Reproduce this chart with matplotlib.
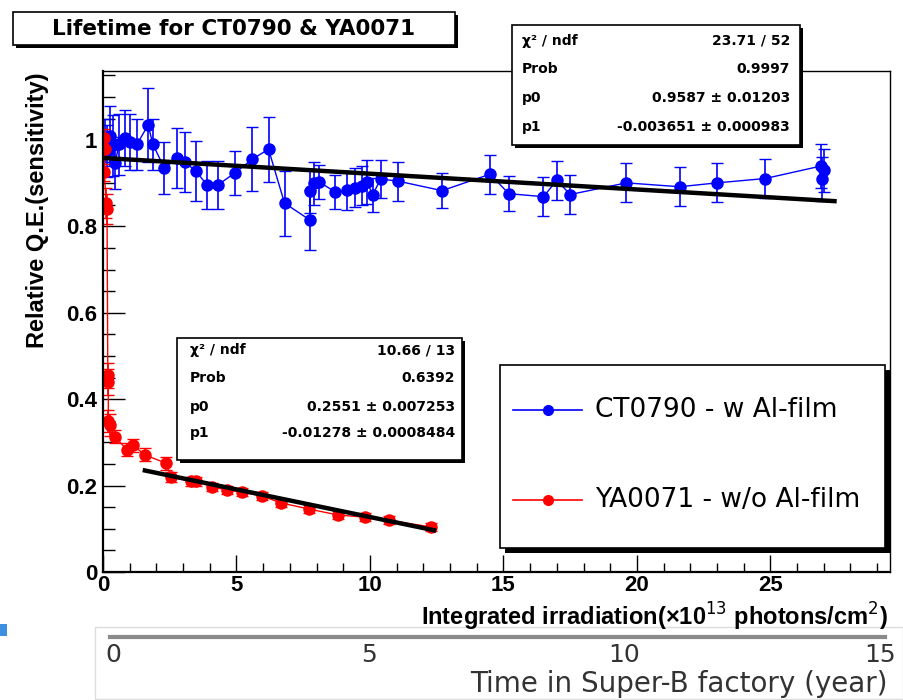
import matplotlib
matplotlib.use('Agg')
import numpy as np
import matplotlib.pyplot as plt
from matplotlib.patches import Rectangle
from matplotlib.lines import Line2D
from matplotlib.ticker import MultipleLocator

# ---------- data ----------
# CT0790 - w Al-film (blue)
ct_x = [0.08, 0.15, 0.25, 0.38, 0.45, 0.6, 0.82, 1.0, 1.27, 1.69, 1.87, 2.3, 2.77, 3.07,
        3.48, 3.9, 4.3, 4.94, 5.6, 6.2, 6.8, 7.75, 7.75, 7.9, 8.1, 8.7, 9.15, 9.45, 9.7,
        9.9, 10.1, 10.4, 11.05, 12.7, 14.5, 15.2, 16.5, 17.0, 17.5, 19.6, 21.6, 23.0,
        24.8, 26.9, 26.95, 27.0]
ct_y = [1.0, 0.975, 1.01, 0.988, 0.947, 0.99, 1.005, 0.995, 0.99, 1.035, 0.99, 0.935,
        0.958, 0.949, 0.928, 0.896, 0.896, 0.924, 0.956, 0.979, 0.854, 0.815, 0.882, 0.9,
        0.903, 0.88, 0.884, 0.89, 0.894, 0.903, 0.873, 0.91, 0.905, 0.883, 0.921, 0.876,
        0.869, 0.907, 0.874, 0.901, 0.892, 0.901, 0.911, 0.94, 0.91, 0.93]
ct_err = [0.05, 0.06, 0.07, 0.07, 0.06, 0.07, 0.065, 0.065, 0.06, 0.085, 0.06, 0.06,
          0.07, 0.07, 0.07, 0.055, 0.055, 0.05, 0.075, 0.075, 0.075, 0.07, 0.05, 0.05,
          0.04, 0.04, 0.045, 0.045, 0.045, 0.05, 0.04, 0.045, 0.045, 0.04, 0.045, 0.04,
          0.045, 0.045, 0.045, 0.045, 0.045, 0.045, 0.045, 0.05, 0.05, 0.05]

# YA0071 - w/o Al-film (red)
ya_x = [0.02, 0.06, 0.05, 0.12, 0.15, 0.18, 0.2, 0.2, 0.25, 0.45, 0.9, 1.12, 1.57, 2.36,
        2.55, 3.3, 3.5, 4.1, 4.65, 5.2, 5.95, 6.67, 7.7, 8.8, 9.8, 10.7, 12.3]
ya_y = [1.005, 0.98, 0.925, 0.855, 0.84, 0.455, 0.44, 0.35, 0.34, 0.313, 0.283, 0.294,
        0.271, 0.252, 0.22, 0.21, 0.21, 0.197, 0.19, 0.185, 0.176, 0.16, 0.146, 0.132,
        0.127, 0.12, 0.104]
ya_err = [0.02, 0.02, 0.02, 0.035, 0.035, 0.03, 0.03, 0.025, 0.025, 0.015, 0.015, 0.015,
          0.015, 0.015, 0.012, 0.01, 0.01, 0.01, 0.01, 0.01, 0.01, 0.01, 0.01, 0.01,
          0.01, 0.01, 0.01]

# linear fits (parameters from the stat boxes) and their ranges
ct_p0, ct_p1, ct_range = 0.9587, -0.003651, [0.1, 27.4]
ya_p0, ya_p1, ya_range = 0.2551, -0.01278, [1.57, 12.4]

ct_stats = [('χ² / ndf', '23.71 / 52'), ('Prob', '0.9997'),
            ('p0', '0.9587 ± 0.01203'), ('p1', '-0.003651 ± 0.000983')]
ya_stats = [('χ² / ndf', '10.66 / 13'), ('Prob', '0.6392'),
            ('p0', '0.2551 ± 0.007253'), ('p1', '-0.01278 ± 0.0008484')]

years = [0, 5, 10, 15]

# ---------- figure ----------
W, H = 904, 700
fig = plt.figure(figsize=(W / 100, H / 100), dpi=100)


def fx(x):
    return x / W


def fy(y):
    return 1 - y / H


def box(x0, y0, x1, y1, shadow=3, lw=1.2):
    if shadow:
        fig.add_artist(Rectangle((fx(x0 + shadow), fy(y1 + shadow)), (x1 - x0) / W, (y1 - y0) / H,
                                 transform=fig.transFigure, facecolor='black', edgecolor='none', zorder=5))
    fig.add_artist(Rectangle((fx(x0), fy(y1)), (x1 - x0) / W, (y1 - y0) / H,
                             transform=fig.transFigure, facecolor='white', edgecolor='black',
                             lw=lw, zorder=6))


bold = dict(family='Liberation Sans', fontweight='bold')

ax = fig.add_axes([fx(103), fy(572), (890 - 103) / W, (572 - 71) / H])
ax.errorbar(ct_x, ct_y, yerr=ct_err, fmt='o-', color='blue', lw=1, ms=8,
            elinewidth=1.2, capsize=4, zorder=2)
ax.errorbar(ya_x, ya_y, yerr=ya_err, fmt='o-', color='red', lw=1, ms=8,
            elinewidth=1.2, capsize=4, zorder=2)

for p0, p1, rng in [(ct_p0, ct_p1, ct_range), (ya_p0, ya_p1, ya_range)]:
    xr = np.array(rng)
    ax.plot(xr, p0 + p1 * xr, color='black', lw=3.2, zorder=3)

ax.set_xlim(0, 29.48)
ax.set_ylim(0, 1.16)
ax.set_xticks([0, 5, 10, 15, 20, 25])
ax.set_yticks([0, 0.2, 0.4, 0.6, 0.8, 1.0])
ax.set_yticklabels(['0', '0.2', '0.4', '0.6', '0.8', '1'])
ax.xaxis.set_minor_locator(MultipleLocator(1))
ax.yaxis.set_minor_locator(MultipleLocator(0.05))
ax.tick_params(axis='x', which='major', direction='in', length=12, width=1, pad=2)
ax.tick_params(axis='x', which='minor', direction='in', length=6.5, width=1)
ax.tick_params(axis='y', which='major', direction='in', length=16, width=1, pad=4)
ax.tick_params(axis='y', which='minor', direction='in', length=8.5, width=1)
for lbl in ax.get_xticklabels() + ax.get_yticklabels():
    lbl.set_fontfamily('Liberation Sans')
    lbl.set_fontweight('bold')
    lbl.set_fontsize(16)
ax.spines['left'].set_linewidth(1.6)
ax.spines['bottom'].set_linewidth(1.6)
ax.spines['top'].set_linewidth(1)
ax.spines['right'].set_linewidth(1)

fig.text(fx(888), fy(617), 'Integrated irradiation(×10$^{13}$ photons/cm$^{2}$)',
         ha='right', va='center', fontsize=17, **bold)
fig.text(fx(38), fy(72), 'Relative Q.E.(sensitivity)', rotation=90,
         ha='center', va='top', fontsize=17, **bold)

# title box
box(13, 12, 455, 45, shadow=3)
fig.text(fx(234), fy(29), 'Lifetime for CT0790 & YA0071', ha='center', va='center',
         family='DejaVu Sans', fontweight='bold', fontsize=15.5, zorder=7)

# stat boxes
for (x0, y0, x1, y1, lx, rx, rows, stats) in [
        (512, 25, 800, 145, 522, 790, [41, 69, 98, 127], ct_stats),
        (177, 338, 462, 460, 190, 455, [350, 378, 407, 433], ya_stats)]:
    box(x0, y0, x1, y1, shadow=3)
    for yy, (name, val) in zip(rows, stats):
        fig.text(fx(lx), fy(yy), name, ha='left', va='center', family='DejaVu Sans',
                 fontweight='bold', fontsize=10, zorder=7)
        fig.text(fx(rx), fy(yy), val, ha='right', va='center', family='DejaVu Sans',
                 fontweight='bold', fontsize=10, zorder=7)

# legend
box(500, 365, 885, 548, shadow=5)
for yy, col, name in [(410, 'blue', 'CT0790 - w Al-film'), (500, 'red', 'YA0071 - w/o Al-film')]:
    fig.add_artist(Line2D([fx(513), fx(582)], [fy(yy), fy(yy)], color=col, lw=1.2,
                          transform=fig.transFigure, zorder=7))
    fig.add_artist(Line2D([fx(548)], [fy(yy)], color=col, marker='o', ms=7,
                          transform=fig.transFigure, zorder=7))
    fig.text(fx(595), fy(yy), name, ha='left', va='center', family='DejaVu Sans',
             fontsize=19, zorder=7)

# bottom strip: time in Super-B factory
fig.add_artist(Rectangle((fx(95), fy(699)), (903 - 95) / W, (699 - 627) / H,
                         transform=fig.transFigure, facecolor='none', edgecolor='#dddddd', lw=1))
fig.add_artist(Rectangle((0, fy(636)), 7 / W, 12 / H, transform=fig.transFigure,
                         facecolor='#3d8fe0', edgecolor='none'))
ax2 = fig.add_axes([fx(110), fy(637), (885 - 110) / W, 0.001])
ax2.set_xlim(-0.06, 15.1)
ax2.set_yticks([])
ax2.set_xticks(years)
ax2.tick_params(axis='x', length=0, pad=4, labelsize=18, labelcolor='#333333')
for lbl in ax2.get_xticklabels():
    lbl.set_fontfamily('DejaVu Sans')
for s in ['top', 'left', 'right']:
    ax2.spines[s].set_visible(False)
ax2.spines['bottom'].set_linewidth(3)
ax2.spines['bottom'].set_color('#8a8a8a')
ax2.patch.set_visible(False)
fig.text(fx(888), fy(684), 'Time in Super-B factory (year)', ha='right', va='center',
         family='DejaVu Sans', fontsize=20, color='#333333')

fig.savefig('out.png', dpi=100)
